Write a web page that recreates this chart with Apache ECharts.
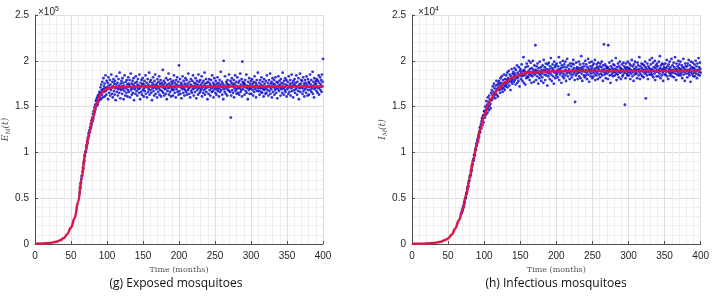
<!DOCTYPE html>
<html>
<head>
<meta charset="utf-8">
<script src="https://cdn.jsdelivr.net/npm/echarts@6/dist/echarts.min.js"></script>
<style>
  html, body { margin: 0; padding: 0; background: #ffffff; }
  #chart { width: 712px; height: 297px; }
</style>
</head>
<body>
<div id="chart"></div>
<script>
// x axis (months) and y axis (scaled units)
const xMin = 0, xMax = 400, xStep = 50
const yMin = 0, yMax = 2.5, yStep = 0.5

// smooth model curves, y in units of 1e5 (E) and 1e4 (I)
const eCurveT = [0, 10, 20, 30, 35, 40, 45, 50, 55, 60, 65, 70, 75, 80, 85, 90, 95, 100, 110, 120, 150, 200, 250, 300, 350, 400]
const eCurveV = [0.003, 0.005, 0.01, 0.025, 0.04, 0.065, 0.11, 0.18, 0.28, 0.46, 0.73, 1.0, 1.2, 1.37, 1.52, 1.62, 1.67, 1.695, 1.71, 1.715, 1.72, 1.72, 1.72, 1.72, 1.72, 1.72]
const iCurveT = [0, 10, 20, 30, 40, 45, 50, 55, 60, 65, 70, 75, 80, 85, 90, 95, 100, 105, 110, 115, 120, 130, 140, 150, 160, 175, 200, 250, 300, 350, 400]
const iCurveV = [0.002, 0.003, 0.005, 0.01, 0.025, 0.04, 0.06, 0.1, 0.17, 0.26, 0.37, 0.53, 0.72, 0.92, 1.09, 1.26, 1.4, 1.51, 1.59, 1.65, 1.7, 1.77, 1.82, 1.85, 1.87, 1.88, 1.885, 1.89, 1.89, 1.89, 1.89]

// noisy observations, sampled every half month
const scatterStep = 0.5
// E_M observations from t = 62, in thousands
const eScatterStart = 62
const eScatter = [
  56,61,62,66,67,71,74,75,79,83,82,88,90,91,97,96,101,100,105,108,107,112,110,116,115,121,118,124,122,127,
  126,131,128,135,131,138,134,142,137,145,141,149,144,152,147,156,150,158,153,160,152,162,155,163,157,166,160,
  165,171,158,174,168,163,177,160,169,181,166,172,175,161,170,184,167,163,178,171,
  169,176,158,182,173,165,170,179,162,174,168,185,171,164,177,160,172,180,167,175,
  163,178,170,157,174,183,166,171,176,162,169,180,173,165,187,170,159,175,168,178,
  172,164,181,169,176,158,173,167,184,171,162,177,170,165,179,174,161,168,182,175,
  166,173,179,160,171,186,168,175,163,170,178,165,174,181,157,172,169,176,164,183,
  171,167,177,162,174,180,169,173,165,185,170,158,176,172,166,179,163,174,181,168,
  175,161,170,178,167,173,184,164,172,176,160,171,180,166,174,169,187,163,177,172,
  168,179,165,173,157,176,170,182,167,174,162,178,171,185,164,173,169,175,160,180,
  172,166,177,170,183,163,175,168,179,161,173,176,167,171,190,165,174,178,162,170,
  176,169,164,181,172,158,174,167,179,170,186,163,175,171,166,180,173,161,177,168,
  170,175,162,178,168,184,171,165,176,173,160,179,169,174,182,166,172,177,163,195,
  167,173,180,164,171,176,159,174,169,183,172,165,178,170,162,175,168,181,173,166,
  179,163,172,175,168,186,170,164,177,171,160,174,180,167,173,165,178,169,184,172,
  162,176,170,173,166,181,175,159,171,178,168,174,163,185,170,177,165,172,179,167,
  174,169,183,161,176,171,165,178,173,168,187,163,175,170,180,166,172,176,158,171,
  177,164,172,180,168,175,162,173,179,170,166,184,171,167,176,160,174,181,169,173,
  165,178,171,163,175,169,182,167,173,176,161,170,179,166,174,188,168,172,177,163,
  171,175,158,200,169,173,166,183,172,164,177,170,175,162,179,168,174,171,185,167,
  173,166,178,138,162,176,181,168,174,165,172,179,160,175,170,184,167,173,177,164,
  169,182,172,165,176,171,163,178,170,186,166,174,168,180,161,199,177,169,175,172,
  176,163,174,179,167,171,185,165,173,170,158,177,172,168,181,164,175,170,170,178,
  164,173,180,168,175,162,171,177,166,183,172,169,176,160,174,179,167,172,187,170,
  172,167,176,163,179,170,174,166,182,171,165,177,173,169,161,180,168,175,171,164,
  178,170,165,184,172,168,176,162,173,179,167,171,186,164,175,169,177,160,172,181,
  166,175,171,179,163,174,168,182,170,165,177,172,159,176,169,183,173,167,178,171,
  174,162,180,169,176,172,165,187,170,175,163,178,171,168,181,166,174,179,161,173,
  169,177,172,164,183,171,166,175,179,162,173,170,185,167,176,172,160,178,174,168,
  180,165,173,176,169,184,171,163,177,172,167,181,158,174,170,186,166,175,179,171,
  172,178,164,170,182,167,175,161,173,179,169,176,165,183,171,174,162,180,168,177,
  163,176,171,185,168,174,179,166,172,170,188,164,177,173,160,181,169,175,171,178,
  175,167,180,172,165,178,170,184,163,176,171,182,168,174,179,166,185,172,177,202
]
// I_M observations from t = 68, in hundreds
const iScatterStart = 68
const iScatter = [
  33,34,34,37,36,39,40,42,42,46,45,49,50,51,54,56,56,60,61,63,63,67,69,69,73,75,75,79,81,80,
  85,87,87,91,93,91,97,98,97,102,104,103,107,110,108,113,115,112,118,120,117,123,127,122,128,131,126,134,137,130,
  138,140,133,141,145,
  145,138,150,144,141,156,147,152,143,160,149,155,146,162,151,158,153,148,165,157,
  168,158,163,172,160,166,175,162,170,164,159,173,167,178,163,169,174,161,171,176,
  178,168,174,165,181,172,176,169,183,171,166,179,175,170,185,173,168,180,176,172,
  184,174,179,187,171,181,176,189,178,173,185,180,168,183,177,191,179,175,186,181,
  188,177,184,192,179,186,174,190,183,181,195,176,187,182,178,193,185,172,189,184,
  191,180,187,196,183,178,189,185,204,176,190,184,188,174,193,186,181,197,187,183,
  194,182,189,200,185,179,191,187,198,184,176,192,188,183,200,186,190,177,195,188,
  185,217,190,179,194,187,183,197,189,175,192,186,181,199,188,184,193,178,190,186,
  182,195,188,176,201,190,185,193,179,189,197,184,191,187,173,196,189,183,198,186,
  191,180,194,188,203,185,178,192,189,196,183,190,175,199,187,193,181,195,188,184,
  197,186,190,182,194,188,204,179,191,185,198,187,192,176,195,189,183,200,186,193,
  181,196,189,184,199,190,178,193,186,202,188,183,195,163,191,187,180,197,189,185,
  194,188,182,197,190,185,201,196,192,187,179,155,189,184,198,191,186,193,180,190,
  187,199,183,192,188,196,181,190,205,186,193,178,191,189,197,184,194,188,182,200,
  190,184,196,187,180,193,189,202,185,191,177,198,188,194,183,190,186,199,192,181,
  195,188,183,197,190,186,201,179,192,189,184,196,187,193,180,198,191,185,189,194,
  182,197,189,186,193,199,184,190,178,195,188,218,191,185,196,187,181,194,189,192,
  186,193,180,217,191,188,198,184,190,176,194,189,185,200,192,187,183,196,190,188,
  195,184,191,188,203,186,179,193,190,185,197,188,182,194,189,199,187,192,180,191,
  188,196,183,190,185,198,189,194,187,152,192,181,197,190,186,193,184,199,188,191,
  184,192,197,187,180,195,190,186,201,189,183,194,188,178,196,191,185,199,190,187,
  193,186,190,181,198,189,195,184,191,204,187,180,194,189,185,197,192,183,190,196,
  188,182,195,190,186,199,193,159,187,191,184,197,189,180,194,188,192,185,201,190,
  185,196,191,187,203,184,190,198,182,193,189,186,200,179,192,195,188,183,197,190,
  194,188,183,199,190,186,205,192,181,195,189,184,197,191,187,178,196,190,193,185,
  190,197,185,192,188,201,183,194,189,180,196,191,187,199,184,193,190,186,202,188,
  183,195,190,187,198,182,193,189,204,186,191,179,197,190,185,194,188,200,184,192,
  196,186,191,199,184,190,187,195,181,193,189,202,185,192,188,178,197,190,194,186,
  189,194,182,197,190,186,201,188,184,195,191,177,199,187,193,189,185,198,192,183,
  192,187,196,183,190,200,186,194,189,181,197,190,185,203,188,193,184,198,191,187
]

const panels = [
  { left: 32, curveT: eCurveT, curveV: eCurveV, obs: eScatter, obsStart: eScatterStart, exp: '5', sym: 'E', caption: '(g) Exposed mosquitoes', capX: 171 },
  { left: 412, curveT: iCurveT, curveV: iCurveV, obs: iScatter, obsStart: iScatterStart, exp: '4', sym: 'I', caption: '(h) Infectious mosquitoes', capX: 551 }
]
const plotW = 291, plotH = 229, plotTop = 15

const myChart = echarts.init(document.getElementById('chart'))

const tickFont = { fontFamily: 'Liberation Sans, Arial, sans-serif', fontSize: 10, color: '#262626' }
const grid = [], xAxis = [], yAxis = [], series = [], title = []

panels.forEach((p, k) => {
  grid.push({ left: p.left, top: plotTop, width: plotW, height: plotH })
  xAxis.push({
    gridIndex: k, type: 'value', min: xMin, max: xMax, interval: xStep,
    name: 'Time (months)', nameLocation: 'middle', nameGap: 21,
    nameTextStyle: { fontFamily: 'DejaVu Serif, serif', fontSize: 8, color: '#555' },
    axisLine: { lineStyle: { color: '#4d4d4d', width: 1 } },
    axisTick: { inside: true, length: 3, lineStyle: { color: '#4d4d4d' } },
    axisLabel: Object.assign({ margin: 7 }, tickFont),
    splitLine: { show: true, lineStyle: { color: '#dedede', width: 1 } },
    minorTick: { show: false, splitNumber: 5 },
    minorSplitLine: { show: true, lineStyle: { color: '#efefef', width: 1 } }
  })
  yAxis.push({
    gridIndex: k, type: 'value', min: yMin, max: yMax, interval: yStep,
    name: '{i|' + p.sym + '}{s|M}{i|(t)}', nameLocation: 'middle', nameGap: 24,
    nameTextStyle: {
      color: '#555',
      rich: {
        i: { fontFamily: 'DejaVu Serif, serif', fontStyle: 'italic', fontSize: 9, color: '#555' },
        s: { fontFamily: 'DejaVu Serif, serif', fontStyle: 'italic', fontSize: 6, color: '#555', padding: [5, 0, 0, 0] }
      }
    },
    axisLine: { show: true, lineStyle: { color: '#4d4d4d', width: 1 } },
    axisTick: { show: true, inside: true, length: 3, lineStyle: { color: '#4d4d4d' } },
    axisLabel: Object.assign({ margin: 6 }, tickFont),
    splitLine: { show: true, lineStyle: { color: '#dedede', width: 1 } },
    minorTick: { show: false, splitNumber: 5 },
    minorSplitLine: { show: true, lineStyle: { color: '#efefef', width: 1 } }
  })
  series.push({
    type: 'scatter', xAxisIndex: k, yAxisIndex: k,
    data: p.obs.map((v, i) => [p.obsStart + i * scatterStep, v / 100]),
    symbol: 'circle', symbolSize: 2.8,
    itemStyle: { color: '#0000cc' },
    silent: true, z: 2
  })
  series.push({
    type: 'line', xAxisIndex: k, yAxisIndex: k,
    data: p.curveT.map((t, i) => [t, p.curveV[i]]),
    smooth: 0.4, smoothMonotone: 'x', showSymbol: false,
    lineStyle: { color: '#d8174a', width: 2.5 },
    silent: true, z: 3
  })
  title.push({
    text: '{a|×10}{b|' + p.exp + '}',
    left: p.left + 1, top: 1,
    textStyle: {
      fontWeight: 'normal',
      rich: {
        a: { fontFamily: 'Liberation Sans, Arial, sans-serif', fontSize: 10, fontWeight: 'normal', color: '#262626' },
        b: { fontFamily: 'Liberation Sans, Arial, sans-serif', fontSize: 7, fontWeight: 'normal', color: '#262626', padding: [0, 0, 6, 0] }
      }
    }
  })
  title.push({
    text: p.caption,
    left: p.capX, top: 273, textAlign: 'center',
    textStyle: { fontFamily: 'Open Sans, sans-serif', fontSize: 12, fontWeight: 'normal', color: '#111' }
  })
})

myChart.setOption({
  animation: false,
  backgroundColor: '#ffffff',
  title: title,
  grid: grid,
  xAxis: xAxis,
  yAxis: yAxis,
  series: series
})
</script>
</body>
</html>
